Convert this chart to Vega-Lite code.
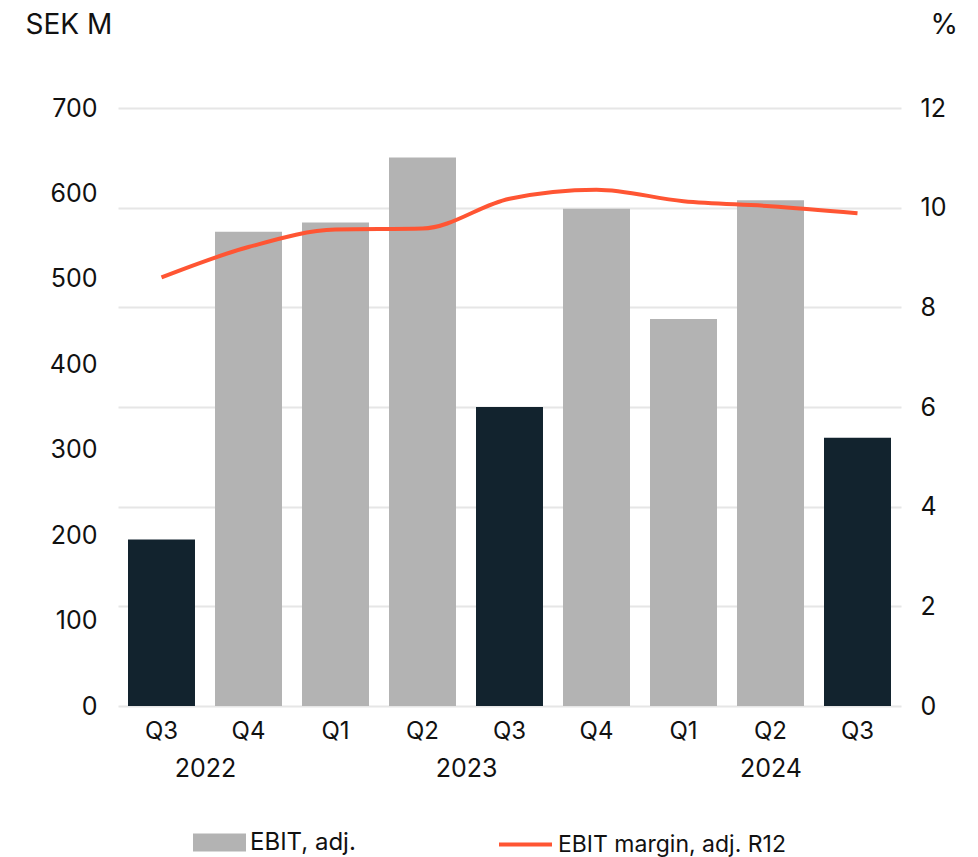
{
  "$schema": "https://vega.github.io/schema/vega-lite/v6.json",
  "width": 783,
  "height": 598,
  "autosize": {"type": "none"},
  "padding": {"left": 118, "top": 108, "right": 77, "bottom": 151},
  "background": "white",
  "config": {
    "font": "Inter",
    "view": {"stroke": null},
    "axis": {"labelColor": "#111111", "titleColor": "#111111", "labelFont": "Inter", "titleFont": "Inter"},
    "legend": {"labelFont": "Inter", "labelColor": "#111111"}
  },
  "layer": [
    {
      "data": {
        "values": [
          {"period": "2022 Q3", "ebit": 195, "margin": 8.60, "type": "Q3", "series": "EBIT margin, adj. R12"},
          {"period": "2022 Q4", "ebit": 555, "margin": 9.21, "type": "EBIT, adj.", "series": "EBIT margin, adj. R12"},
          {"period": "2023 Q1", "ebit": 566, "margin": 9.56, "type": "EBIT, adj.", "series": "EBIT margin, adj. R12"},
          {"period": "2023 Q2", "ebit": 642, "margin": 9.58, "type": "EBIT, adj.", "series": "EBIT margin, adj. R12"},
          {"period": "2023 Q3", "ebit": 350, "margin": 10.18, "type": "Q3", "series": "EBIT margin, adj. R12"},
          {"period": "2023 Q4", "ebit": 582, "margin": 10.36, "type": "EBIT, adj.", "series": "EBIT margin, adj. R12"},
          {"period": "2024 Q1", "ebit": 453, "margin": 10.13, "type": "EBIT, adj.", "series": "EBIT margin, adj. R12"},
          {"period": "2024 Q2", "ebit": 592, "margin": 10.03, "type": "EBIT, adj.", "series": "EBIT margin, adj. R12"},
          {"period": "2024 Q3", "ebit": 314, "margin": 9.89, "type": "Q3", "series": "EBIT margin, adj. R12"}
        ]
      },
      "encoding": {
        "x": {
          "field": "period",
          "type": "nominal",
          "sort": null,
          "scale": {"paddingInner": 0.23, "paddingOuter": 0.115},
          "axis": {
            "orient": "bottom",
            "title": null,
            "labelAngle": 0,
            "labelExpr": "split(datum.label, ' ')[1]",
            "labelFontSize": 24,
            "labelPadding": 13,
            "ticks": false,
            "domain": false,
            "grid": false
          }
        }
      },
      "layer": [
        {
          "mark": {"type": "bar"},
          "encoding": {
            "y": {
              "field": "ebit",
              "type": "quantitative",
              "scale": {"domain": [0, 700], "nice": false},
              "axis": {
                "orient": "left",
                "values": [0, 100, 200, 300, 400, 500, 600, 700],
                "grid": false,
                "ticks": false,
                "domain": false,
                "labelFontSize": 25,
                "labelPadding": 21,
                "title": "SEK M",
                "titleAngle": 0,
                "titleAlign": "left",
                "titleBaseline": "alphabetic",
                "titleFontSize": 28,
                "titleFontWeight": "normal",
                "titleX": -93,
                "titleY": -75
              }
            },
            "fill": {
              "field": "type",
              "type": "nominal",
              "scale": {"domain": ["EBIT, adj.", "Q3"], "range": ["#B3B3B3", "#12232E"]},
              "legend": {
                "values": ["EBIT, adj."],
                "title": null,
                "orient": "none",
                "legendX": 75,
                "legendY": 708,
                "symbolType": "M-1,-0.34L1,-0.34L1,0.34L-1,0.34Z",
                "symbolSize": 2809,
                "symbolStrokeWidth": 0,
                "labelFontSize": 24,
                "labelOffset": 4,
                "labelLimit": 400
              }
            }
          }
        },
        {
          "mark": {"type": "line", "interpolate": "monotone", "strokeWidth": 4},
          "encoding": {
            "y": {
              "field": "margin",
              "type": "quantitative",
              "scale": {"domain": [0, 12], "nice": false},
              "axis": {
                "orient": "right",
                "values": [0, 2, 4, 6, 8, 10, 12],
                "grid": true,
                "gridColor": "#E6E6E6",
                "gridWidth": 2,
                "ticks": false,
                "domain": false,
                "labelFontSize": 25,
                "labelPadding": 19,
                "title": "%",
                "titleAngle": 0,
                "titleAlign": "left",
                "titleBaseline": "alphabetic",
                "titleFontSize": 28,
                "titleFontWeight": "normal",
                "titleX": 29,
                "titleY": -75
              }
            },
            "stroke": {
              "field": "series",
              "type": "nominal",
              "scale": {"domain": ["EBIT margin, adj. R12"], "range": ["#FF5533"]},
              "legend": {
                "title": null,
                "orient": "none",
                "legendX": 379,
                "legendY": 708,
                "symbolType": "M-1,0L1,0",
                "symbolSize": 2809,
                "symbolStrokeWidth": 4,
                "labelFontSize": 23,
                "labelOffset": 4,
                "labelLimit": 400
              }
            }
          }
        }
      ],
      "resolve": {"scale": {"y": "independent"}}
    },
    {
      "data": {
        "values": [
          {"pos": 1, "year": "2022"},
          {"pos": 4, "year": "2023"},
          {"pos": 7.5, "year": "2024"}
        ]
      },
      "mark": {"type": "text", "text": ""},
      "encoding": {
        "x": {
          "field": "pos",
          "type": "quantitative",
          "scale": {"domain": [0, 9], "nice": false, "zero": false},
          "axis": {
            "orient": "bottom",
            "title": null,
            "values": [1, 4, 7.5],
            "labelExpr": "datum.value == 1 ? '2022' : datum.value == 4 ? '2023' : '2024'",
            "labelFontSize": 25,
            "labelPadding": 50,
            "ticks": false,
            "domain": false,
            "grid": false
          }
        }
      }
    }
  ],
  "resolve": {"scale": {"x": "independent"}}
}
